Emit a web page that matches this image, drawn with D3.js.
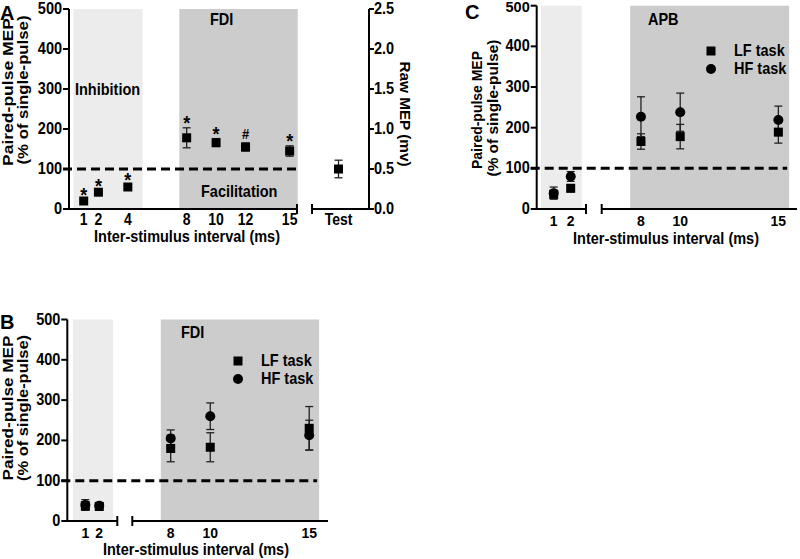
<!DOCTYPE html>
<html><head><meta charset="utf-8">
<script src="https://cdn.jsdelivr.net/npm/d3@7"></script>
<style>
body{margin:0;background:#fff;}
text{font-family:"Liberation Sans",Arial,sans-serif;font-weight:bold;fill:#000;}
</style></head><body>
<svg id="c" width="800" height="559"></svg>
<script>
// ---------- DATA ----------
// Panel A (FDI, single condition)
const isiA = [1, 2, 4, 8, 10, 12, 15];
const meanA = [20, 42, 55, 178, 166, 155, 145];
const errA = [3, 4, 4, 25, 10, 10, 13];
const markA = ["*", "*", "*", "*", "*", "#", "*"];
const testMeanA = 100, testErrA = 22;
const ticksA = [1, 2, 4, 8, 10, 12, 15];
const rawTicks = [0, 0.5, 1.0, 1.5, 2.0, 2.5];
// Panel B (FDI, LF vs HF task)
const isiB = [1, 2, 8, 10, 15];
const lfB = [37, 36, 180, 183, 230];
const lfErrB = [10, 8, 33, 36, 54];
const hfB = [40, 38, 205, 260, 213];
const hfErrB = [13, 8, 21, 33, 37];
// Panel C (APB, LF vs HF task)
const isiC = [1, 2, 8, 10, 15];
const lfC = [36, 51, 166, 178, 189];
const lfErrC = [8, 9, 19, 30, 27];
const hfC = [39, 80, 227, 238, 219];
const hfErrC = [15, 12, 49, 47, 34];
const yTicks = [0, 100, 200, 300, 400, 500];
const ticksLo = [1, 2], ticksHi = [8, 10, 15];

// ---------- DRAW ----------
const svg = d3.select("#c");
const TS = 1.15; // vertical stretch of the original figure text

function txt(g, x, y, s, size, anchor, sc) {
  return g.append("text").attr("transform", `translate(${x},${y}) scale(1,${sc || TS})`)
    .attr("font-size", size).attr("text-anchor", anchor || "start").text(s);
}
function vtxt(g, x, y, s, size, len) {
  const t = g.append("text").attr("transform", `translate(${x},${y}) rotate(-90)`)
    .attr("font-size", size).attr("text-anchor", "middle").text(s);
  if (len) t.attr("textLength", len).attr("lengthAdjust", "spacingAndGlyphs");
  return t;
}

function yAxis(g, y, x0) {
  g.append("line").attr("x1", x0).attr("x2", x0).attr("y1", y(0)+1).attr("y2", y(500))
    .attr("stroke", "#000").attr("stroke-width", 2);
  yTicks.forEach(v => {
    g.append("line").attr("x1", x0-6).attr("x2", x0).attr("y1", y(v)).attr("y2", y(v))
      .attr("stroke", "#000").attr("stroke-width", 2);
    txt(g, x0-7, Math.max(y(v)+5, 12), v, 14.5, "end", y(v) < 8 ? 1.0 : TS);
  });
}
function xSeg(g, y0, x1, x2, capL, capR) {
  g.append("line").attr("x1", x1).attr("x2", x2).attr("y1", y0).attr("y2", y0)
    .attr("stroke", "#000").attr("stroke-width", 2);
  if (capL) g.append("line").attr("x1", x1).attr("x2", x1).attr("y1", y0-5).attr("y2", y0+5).attr("stroke", "#000").attr("stroke-width", 2);
  if (capR) g.append("line").attr("x1", x2).attr("x2", x2).attr("y1", y0-5).attr("y2", y0+5).attr("stroke", "#000").attr("stroke-width", 2);
}
function shade(g, xs, a, b, y, col) {
  g.append("rect").attr("x", xs(a)).attr("y", y(500)).attr("width", xs(b)-xs(a))
    .attr("height", y(0)-y(500)).attr("fill", col);
}
function errBar(g, x, y, m, e) {
  g.append("line").attr("x1", x).attr("x2", x).attr("y1", y(m-e)).attr("y2", y(m+e)).attr("stroke", "#222").attr("stroke-width", 1.3);
  [m-e, m+e].forEach(v => g.append("line").attr("x1", x-4).attr("x2", x+4).attr("y1", y(v)).attr("y2", y(v)).attr("stroke", "#222").attr("stroke-width", 1.3));
}
function square(g, x, y, s) {
  g.append("rect").attr("x", x-s/2).attr("y", y-s/2).attr("width", s).attr("height", s).attr("fill", "#000");
}
function circle(g, x, y, r) {
  g.append("circle").attr("cx", x).attr("cy", y).attr("r", r).attr("fill", "#000");
}
function dashed(g, x1, x2, yv) {
  g.append("line").attr("x1", x1).attr("x2", x2).attr("y1", yv).attr("y2", yv)
    .attr("stroke", "#000").attr("stroke-width", 3).attr("stroke-dasharray", "9,5");
}

// ===== Panel A =====
{
  const g = svg.append("g");
  const y = d3.scaleLinear().domain([0, 500]).range([209, 9]);
  const yRaw = d3.scaleLinear().domain([0, 2.5]).range([209, 9]);
  const x = d3.scaleLinear().domain([0, 15.5]).range([69, 297]);
  const xt = d3.scaleBand().domain(["Test"]).range([312, 365]);
  shade(g, x, 0.3, 5.0, y, "#ececec");
  shade(g, x, 7.5, 15.55, y, "#cccccc");
  dashed(g, 63, x(15.55), y(100));
  yAxis(g, y, 69);
  xSeg(g, 209, 69, 297, false, true);
  xSeg(g, 209, 312, 369, true, false);
  // right axis
  g.append("line").attr("x1", 369).attr("x2", 369).attr("y1", yRaw(0)+1).attr("y2", yRaw(2.5)).attr("stroke", "#000").attr("stroke-width", 2);
  rawTicks.forEach(v => {
    g.append("line").attr("x1", 369).attr("x2", 374).attr("y1", yRaw(v)).attr("y2", yRaw(v)).attr("stroke", "#000").attr("stroke-width", 2);
    txt(g, 374, yRaw(v)+5, v.toFixed(1), 14.5, "start");
  });
  g.append("text").attr("transform", `translate(400,114) rotate(90)`).attr("font-size", 14.5)
    .attr("text-anchor", "middle").attr("textLength", 105).attr("lengthAdjust", "spacingAndGlyphs").text("Raw MEP (mv)");
  ticksA.forEach(t => txt(g, x(t), 225, t, 14, "middle"));
  txt(g, xt("Test") + xt.bandwidth()/2, 225, "Test", 14, "middle");
  isiA.forEach((d, i) => {
    errBar(g, x(d), y, meanA[i], errA[i]);
    square(g, x(d), y(meanA[i]), 9);
    txt(g, x(d), y(meanA[i]+errA[i]) - 4 + (markA[i] === "#" ? 0 : 6), markA[i], markA[i] === "#" ? 13 : 18, "middle");
  });
  const tx = xt("Test") + xt.bandwidth()/2;
  errBar(g, tx, y, testMeanA, testErrA);
  square(g, tx, y(testMeanA), 9);
  txt(g, 0, 20, "A", 20, "start", 1.05);
  vtxt(g, 13, 92, "Paired-pulse MEP", 14.5, 148);
  vtxt(g, 28, 90, "(% of single-pulse)", 14.5, 149);
  txt(g, 75, 95, "Inhibition", 14.5, "start");
  txt(g, 210, 25, "FDI", 14.5, "start");
  txt(g, 201, 197, "Facilitation", 14.5, "start");
  txt(g, 187, 242, "Inter-stimulus interval (ms)", 14.5, "middle");
}

function twoTask(g, cfg) {
  const y = d3.scaleLinear().domain([0, 500]).range(cfg.yr);
  const xl = d3.scaleLinear().domain(cfg.dLo).range(cfg.rLo);
  const xh = d3.scaleLinear().domain(cfg.dHi).range(cfg.rHi);
  shade(g, xl, cfg.light[0], cfg.light[1], y, "#ececec");
  shade(g, xh, cfg.dark[0], cfg.dark[1], y, "#cccccc");
  dashed(g, cfg.rLo[0]-6, xh(cfg.dark[1]) - 2, y(100));
  yAxis(g, y, cfg.rLo[0]);
  xSeg(g, cfg.yr[0], cfg.rLo[0], cfg.rLo[1], false, true);
  xSeg(g, cfg.yr[0], cfg.rHi[0], cfg.rHi[1], true, false);
  ticksLo.forEach(t => txt(g, xl(t), cfg.tickY, t, 14, "middle", 1.05));
  ticksHi.forEach(t => txt(g, xh(t), cfg.tickY, t, 14, "middle", 1.05));
  const xf = d => d < 5 ? xl(d) : xh(d);
  cfg.isi.forEach((d, i) => {
    errBar(g, xf(d), y, cfg.lf[i], cfg.lfErr[i]);
    errBar(g, xf(d), y, cfg.hf[i], cfg.hfErr[i]);
    square(g, xf(d), y(cfg.lf[i]), 9);
    circle(g, xf(d), y(cfg.hf[i]), 5);
  });
  square(g, cfg.leg[0], cfg.leg[1], 9);
  circle(g, cfg.leg[0], cfg.leg[1] + 18, 5);
  txt(g, cfg.leg[0] + 23, cfg.leg[1] + 5, "LF task", 14.5, "start");
  txt(g, cfg.leg[0] + 23, cfg.leg[1] + 23, "HF task", 14.5, "start");
}

// ===== Panel B =====
{
  const g = svg.append("g");
  twoTask(g, {yr: [521, 319.5], dLo: [-0.3, 3.3], rLo: [67.3, 117.3], dHi: [6.06, 15.95], rHi: [132.3, 328],
    light: [0.1, 3.0], dark: [7.5, 15.5], tickY: 538, isi: isiB, lf: lfB, lfErr: lfErrB, hf: hfB, hfErr: hfErrB,
    leg: [238, 361]});
  txt(g, 0, 329, "B", 20, "start", 1.05);
  vtxt(g, 13, 408, "Paired-pulse MEP", 14.5, 145);
  vtxt(g, 28, 408, "(% of single-pulse)", 14.5, 146);
  txt(g, 181, 338, "FDI", 14.5, "start");
  txt(g, 196, 555, "Inter-stimulus interval (ms)", 14.5, "middle", 1.1);
}

// ===== Panel C =====
{
  const g = svg.append("g");
  twoTask(g, {yr: [209, 5.7], dLo: [0, 2.9], rLo: [536.7, 586], dHi: [6, 15.95], rHi: [601.7, 797],
    light: [0.25, 2.65], dark: [7.45, 15.55], tickY: 226, isi: isiC, lf: lfC, lfErr: lfErrC, hf: hfC, hfErr: hfErrC,
    leg: [711, 51]});
  txt(g, 465, 19, "C", 20, "start", 1.0);
  vtxt(g, 482, 110, "Paired-pulse MEP", 14.5, 118);
  vtxt(g, 498, 108, "(% of single-pulse)", 14.5, 137);
  txt(g, 648, 25, "APB", 14.5, "start");
  txt(g, 666, 244, "Inter-stimulus interval (ms)", 14.5, "middle");
}
</script></body></html>
